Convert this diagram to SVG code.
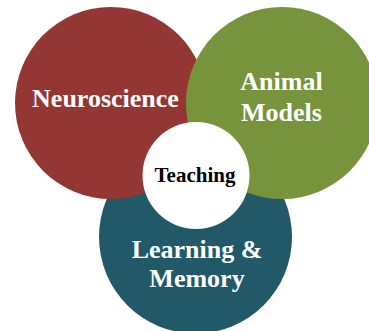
<svg xmlns="http://www.w3.org/2000/svg" width="369" height="331" viewBox="0 0 369 331">
<style>
.lbl{font-family:"Liberation Serif","Times New Roman",serif;font-weight:bold;font-size:26px;fill:#ffffff;text-anchor:middle}
.ctr{font-family:"Liberation Serif","Times New Roman",serif;font-weight:bold;font-size:21px;fill:#000000;text-anchor:middle}
</style>
<rect width="369" height="331" fill="#ffffff"/>
<g id="learning-memory">
<circle cx="195.5" cy="237" r="96.5" fill="#215968"/>
</g>
<g id="neuroscience">
<circle cx="111" cy="103" r="96" fill="#943634"/>
</g>
<g id="animal-models">
<circle cx="282" cy="103" r="96" fill="#77933C"/>
</g>
<g id="teaching">
<circle cx="196" cy="175.5" r="53.5" fill="#ffffff"/>
</g>
<g id="labels">
<text class="lbl" x="105.5" y="107">Neuroscience</text>
<text class="lbl" x="281.5" y="90">Animal</text>
<text class="lbl" x="281.5" y="120.5">Models</text>
<text class="lbl" x="197" y="258">Learning &amp;</text>
<text class="lbl" x="197" y="287">Memory</text>
<text class="ctr" x="195" y="181.5">Teaching</text>
</g>
<g id="connectors"/>
</svg>
